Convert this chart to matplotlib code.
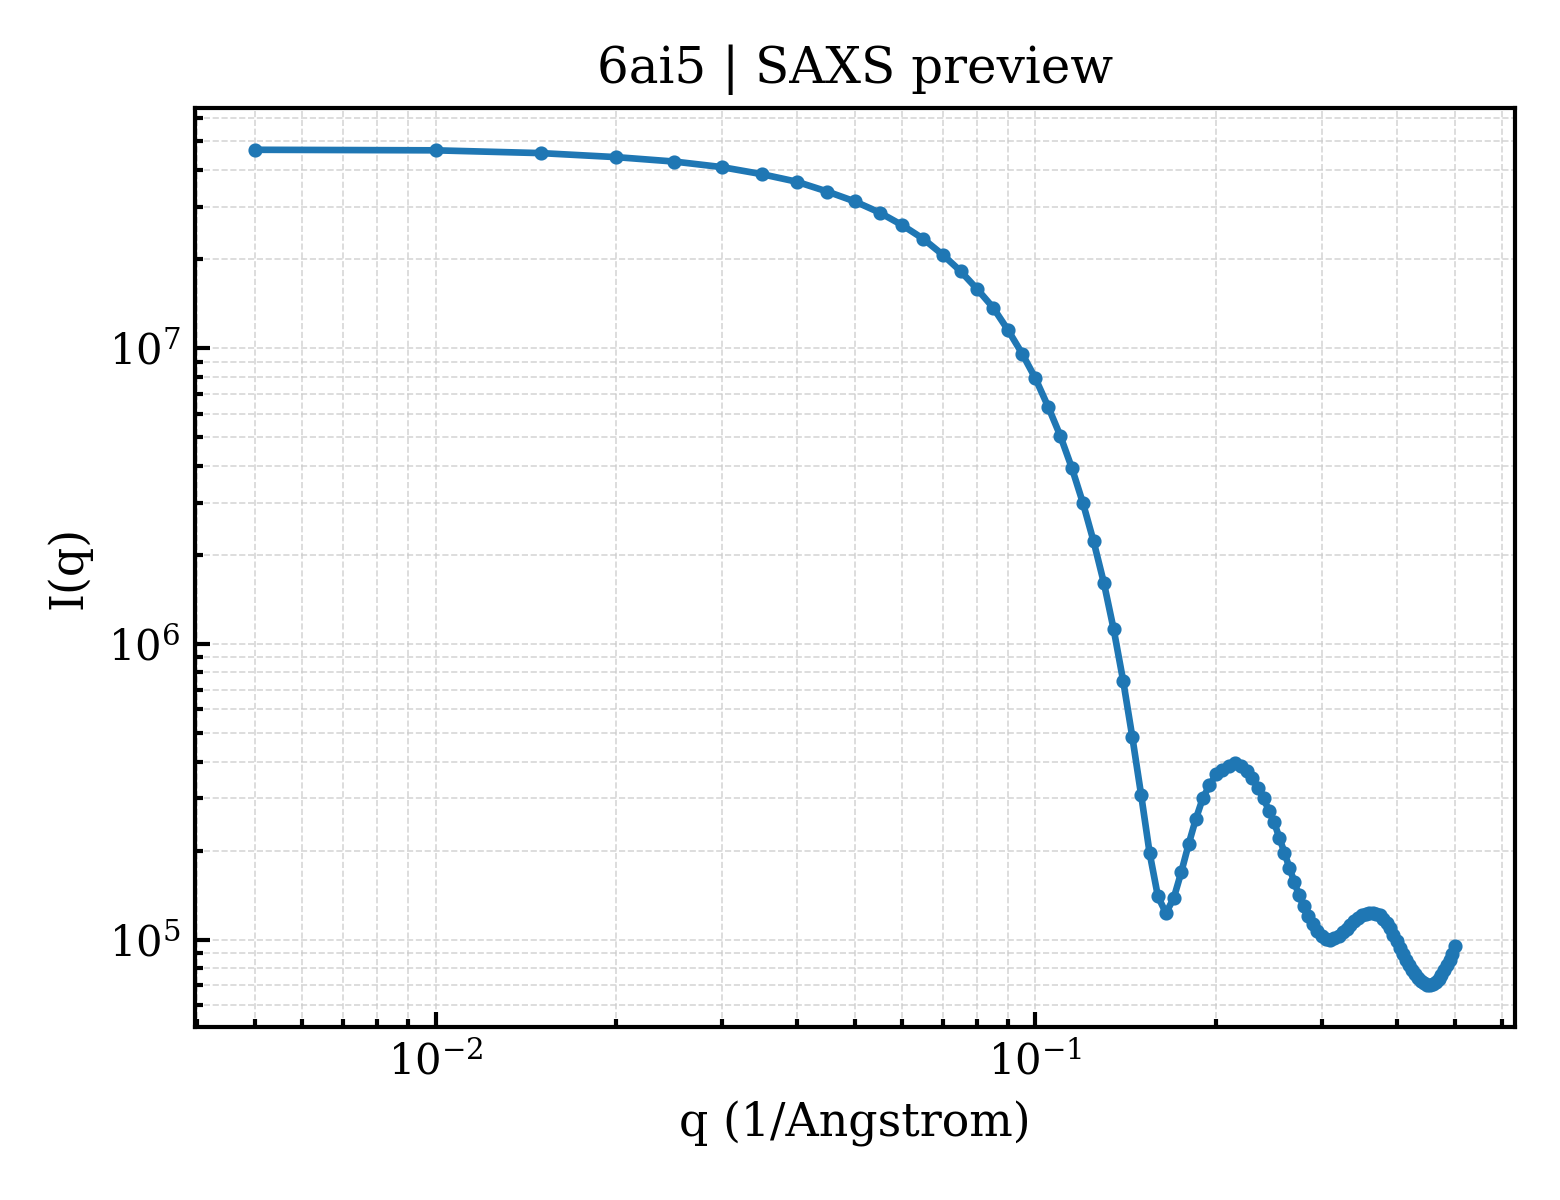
import matplotlib
matplotlib.use("Agg")
import matplotlib.pyplot as plt

# q grid (1/Angstrom), 0.005 steps
q = [round(0.005 * i, 3) for i in range(1, 101)]

# intensities
intensity = [
    4.68e7, 4.66e7, 4.56e7, 4.42e7, 4.27e7, 4.09e7, 3.87e7, 3.65e7, 3.38e7, 3.13e7,
    2.87e7, 2.60e7, 2.34e7, 2.07e7, 1.82e7, 1.58e7, 1.37e7, 1.15e7, 9.58e6, 7.89e6,
    6.33e6, 5.05e6, 3.93e6, 2.99e6, 2.22e6, 1.61e6, 1.12e6, 7.51e5, 4.85e5, 3.09e5,
    1.96e5, 1.40e5, 1.23e5, 1.38e5, 1.69e5, 2.10e5, 2.55e5, 3.00e5, 3.32e5, 3.62e5,
    3.75e5, 3.86e5, 3.94e5, 3.86e5, 3.72e5, 3.51e5, 3.25e5, 3.00e5, 2.73e5, 2.49e5,
    2.21e5, 1.97e5, 1.75e5, 1.57e5, 1.41e5, 1.30e5, 1.20e5, 1.13e5, 1.07e5, 1.03e5,
    1.006e5, 1.00e5, 1.009e5, 1.029e5, 1.057e5, 1.088e5, 1.122e5, 1.157e5, 1.186e5, 1.209e5,
    1.225e5, 1.233e5, 1.232e5, 1.224e5, 1.208e5, 1.176e5, 1.137e5, 1.093e5, 1.038e5, 9.88e4,
    9.38e4, 8.93e4, 8.56e4, 8.19e4, 7.89e4, 7.63e4, 7.43e4, 7.26e4, 7.12e4, 7.05e4,
    7.00e4, 7.06e4, 7.18e4, 7.37e4, 7.61e4, 7.88e4, 8.20e4, 8.55e4, 8.93e4, 9.51e4,
]

title = "6ai5 | SAXS preview"

plt.rcParams["font.family"] = "DejaVu Serif"
plt.rcParams["mathtext.fontset"] = "dejavuserif"

fig, ax = plt.subplots(figsize=(5.2, 4.0), dpi=300)
ax.plot(q, intensity, "-o", color="#1f77b4", linewidth=1.6, markersize=2.4)
ax.set_xscale("log")
ax.set_yscale("log")

ax.set_title(title, fontsize=12)
ax.set_xlabel("q (1/Angstrom)", fontsize=11)
ax.set_ylabel("I(q)", fontsize=11)
ax.tick_params(which="both", direction="in", labelsize=10, width=1.0)
ax.tick_params(which="major", length=3.5)
ax.tick_params(which="minor", length=2.0)
for side in ax.spines.values():
    side.set_linewidth(1.0)
ax.grid(True, which="both", linestyle="--", linewidth=0.4, color="#cccccc", alpha=0.8)

fig.subplots_adjust(left=0.125, right=0.971, top=0.91, bottom=0.144)
fig.savefig("out.png", dpi=300)
plt.close(fig)
